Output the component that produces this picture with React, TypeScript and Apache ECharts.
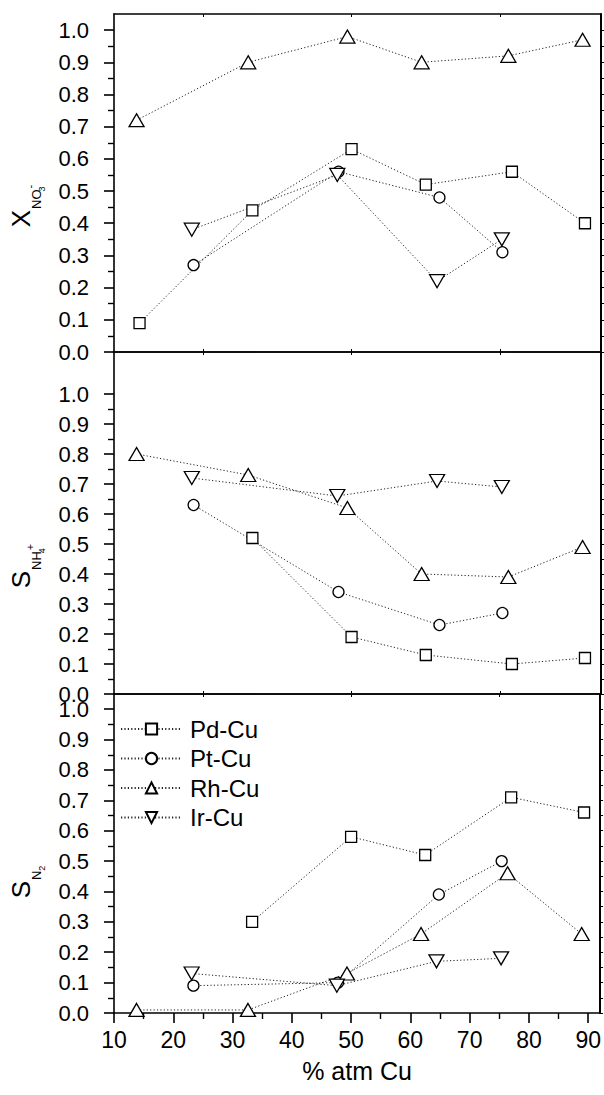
import React, { useEffect, useRef } from "react";
import * as echarts from "echarts";

const FONT = "'Liberation Sans', Arial, Helvetica, sans-serif";

// Alloy series and the Cu content (% atm) of each catalyst
const alloyNames = ["Pd-Cu", "Pt-Cu", "Rh-Cu", "Ir-Cu"];
const pdCuX = [14.3, 33.3, 50.0, 62.5, 77.0, 89.3];
const ptCuX = [23.4, 47.8, 64.8, 75.4];
const rhCuX = [13.8, 32.6, 49.3, 61.8, 76.4, 88.9];
const irCuX = [23.1, 47.6, 64.4, 75.3];

// Nitrate conversion
const convPd = [0.09, 0.44, 0.63, 0.52, 0.56, 0.4];
const convPt = [0.27, 0.56, 0.48, 0.31];
const convRh = [0.72, 0.9, 0.98, 0.9, 0.92, 0.97];
const convIr = [0.38, 0.55, 0.22, 0.35];

// Ammonium selectivity
const nh4Pd = [null, 0.52, 0.19, 0.13, 0.1, 0.12];
const nh4Pt = [0.63, 0.34, 0.23, 0.27];
const nh4Rh = [0.8, 0.73, 0.62, 0.4, 0.39, 0.49];
const nh4Ir = [0.72, 0.66, 0.71, 0.69];

// Nitrogen selectivity
const n2Pd = [null, 0.3, 0.58, 0.52, 0.71, 0.66];
const n2Pt = [0.09, 0.1, 0.39, 0.5];
const n2Rh = [0.01, 0.01, 0.13, 0.26, 0.46, 0.26];
const n2Ir = [0.13, 0.09, 0.17, 0.18];

// Axis ticks
const xMajorTicks = [10, 20, 30, 40, 50, 60, 70, 80, 90];
const xMinorTicks = [15, 25, 35, 45, 55, 65, 75, 85];
const xFrameTicks = [25, 50, 75];
const yMajorTicks = [0, 0.1, 0.2, 0.3, 0.4, 0.5, 0.6, 0.7, 0.8, 0.9, 1.0];
const yMinorTicks = [0.05, 0.15, 0.25, 0.35, 0.45, 0.55, 0.65, 0.75, 0.85, 0.95];
const xTitle = "% atm Cu";

const panelYMax = [1.05, 1.14, 1.05];
const grids = [
  { left: 114, width: 487, top: 14, height: 338 },
  { left: 114, width: 487, top: 352, height: 342 },
  { left: 114, width: 487, top: 694, height: 319 },
];

const symbols: Record<string, { symbol: string; size: number | number[]; rotate: number }> = {
  "Pd-Cu": { symbol: "rect", size: 11, rotate: 0 },
  "Pt-Cu": { symbol: "circle", size: 11, rotate: 0 },
  "Rh-Cu": { symbol: "triangle", size: [15, 13], rotate: 0 },
  "Ir-Cu": { symbol: "triangle", size: [15, 13], rotate: 180 },
};

const xs: Record<string, number[]> = {
  "Pd-Cu": pdCuX,
  "Pt-Cu": ptCuX,
  "Rh-Cu": rhCuX,
  "Ir-Cu": irCuX,
};

const panelValues: Record<string, (number | null)[]>[] = [
  { "Pd-Cu": convPd, "Pt-Cu": convPt, "Rh-Cu": convRh, "Ir-Cu": convIr },
  { "Pd-Cu": nh4Pd, "Pt-Cu": nh4Pt, "Rh-Cu": nh4Rh, "Ir-Cu": nh4Ir },
  { "Pd-Cu": n2Pd, "Pt-Cu": n2Pt, "Rh-Cu": n2Rh, "Ir-Cu": n2Ir },
];

const LINE = { color: "#000", width: 1.6 };

function buildOption() {
  const xAxis: any[] = [];
  const yAxis: any[] = [];
  const series: any[] = [];
  const mainX: number[] = [];
  const mainY: number[] = [];

  grids.forEach((_, gi) => {
    const last = gi === grids.length - 1;
    // bottom axis
    mainX.push(xAxis.length);
    xAxis.push({
      type: "value",
      gridIndex: gi,
      position: "bottom",
      min: 10,
      max: 92,
      axisLine: { show: true, onZero: false, lineStyle: LINE },
      axisTick: last
        ? { show: true, inside: false, length: 10, customValues: xMajorTicks, lineStyle: { width: 1.6, color: "#000" } }
        : { show: true, inside: true, length: 3, customValues: xFrameTicks, lineStyle: { width: 1, color: "#000" } },
      axisLabel: last
        ? {
            show: true,
            customValues: xMajorTicks,
            margin: 15,
            fontSize: 23,
            fontFamily: FONT,
            color: "#000",
            formatter: (v: number) => String(Math.round(v)),
          }
        : { show: false },
      splitLine: { show: false },
      name: last ? xTitle : "",
      nameLocation: "middle",
      nameGap: 45,
      nameTextStyle: { fontSize: 25, fontFamily: FONT, color: "#000" },
    });
    if (last) {
      xAxis.push({
        type: "value",
        gridIndex: gi,
        position: "bottom",
        min: 10,
        max: 92,
        axisLine: { show: false, onZero: false },
        axisTick: { show: true, inside: false, length: 6, customValues: xMinorTicks, lineStyle: { width: 1.4, color: "#000" } },
        axisLabel: { show: false },
        splitLine: { show: false },
      });
    }
    // top frame
    xAxis.push({
      type: "value",
      gridIndex: gi,
      position: "top",
      min: 10,
      max: 92,
      axisLine: { show: true, onZero: false, lineStyle: LINE },
      axisTick: { show: true, inside: true, length: 3, customValues: xFrameTicks, lineStyle: { width: 1, color: "#000" } },
      axisLabel: { show: false },
      splitLine: { show: false },
    });

    // left axis with labels
    mainY.push(yAxis.length);
    yAxis.push({
      type: "value",
      gridIndex: gi,
      position: "left",
      min: 0,
      max: panelYMax[gi],
      axisLine: { show: true, onZero: false, lineStyle: LINE },
      axisTick: { show: true, inside: false, length: 10, customValues: yMajorTicks, lineStyle: { width: 1.6, color: "#000" } },
      axisLabel: {
        show: true,
        customValues: yMajorTicks,
        margin: 25,
        fontSize: 22,
        fontFamily: FONT,
        color: "#000",
        formatter: (v: number) => v.toFixed(1),
      },
      splitLine: { show: false },
    });
    // left minor ticks
    yAxis.push({
      type: "value",
      gridIndex: gi,
      position: "left",
      min: 0,
      max: panelYMax[gi],
      axisLine: { show: false, onZero: false },
      axisTick: { show: true, inside: false, length: 6, customValues: yMinorTicks, lineStyle: { width: 1.4, color: "#000" } },
      axisLabel: { show: false },
      splitLine: { show: false },
    });
    // right frame
    yAxis.push({
      type: "value",
      gridIndex: gi,
      position: "right",
      min: 0,
      max: panelYMax[gi],
      axisLine: { show: true, onZero: false, lineStyle: { color: "#000", width: 2 } },
      axisTick: {
        show: true,
        inside: false,
        length: 3,
        customValues: [...yMajorTicks, ...yMinorTicks],
        lineStyle: { width: 1, color: "#000" },
      },
      axisLabel: { show: false },
      splitLine: { show: false },
    });

    alloyNames.forEach((name) => {
      const vals = panelValues[gi][name];
      const sym = symbols[name];
      series.push({
        type: "line",
        name,
        xAxisIndex: mainX[gi],
        yAxisIndex: mainY[gi],
        data: xs[name].map((x, i) => [x, vals[i]]),
        symbol: sym.symbol,
        symbolSize: sym.size,
        symbolRotate: sym.rotate,
        showAllSymbol: true,
        lineStyle: { color: "#222", width: 1, type: [1.2, 2.2] },
        itemStyle: { color: "#fff", borderColor: "#000", borderWidth: 1.3 },
        emphasis: { disabled: true },
        z: 3,
      });
    });
  });

  const title = (main: string, sub: string, subsub: string, sup: string, cy: number) => ({
    type: "text",
    x: 8,
    y: cy,
    rotation: Math.PI / 2,
    style: {
      text: `{m|${main}}{s|${sub}}{ss|${subsub}}` + (sup ? `{p|${sup}}` : ""),
      fill: "#000",
      align: "center",
      verticalAlign: "top",
      fontFamily: FONT,
      rich: {
        m: { fontSize: 26, fontFamily: FONT, verticalAlign: "top", padding: [0, 0, 0, 0] },
        s: { fontSize: 13, fontFamily: FONT, verticalAlign: "top", padding: [22, 0, 0, 1] },
        ss: sup
          ? { fontSize: 9, fontFamily: FONT, verticalAlign: "top", padding: [29, 0, 0, 0], width: 1 }
          : { fontSize: 9, fontFamily: FONT, verticalAlign: "top", padding: [29, 0, 0, 0] },
        p: { fontSize: 11, fontFamily: FONT, verticalAlign: "top", padding: [16, 0, 0, 0] },
      },
    },
  });

  return {
    animation: false,
    backgroundColor: "#fff",
    grid: grids,
    xAxis,
    yAxis,
    series,
    legend: {
      data: alloyNames,
      orient: "vertical",
      left: 115,
      top: 712,
      itemWidth: 61,
      itemHeight: 14,
      itemGap: 5.5,
      selectedMode: false,
      textStyle: { fontSize: 24, fontFamily: FONT, color: "#000", padding: [0, 0, 0, 3] },
    },
    graphic: [
      title("X", "NO", "3", "-", 206),
      title("S", "NH", "4", "+", 566),
      title("S", "N", "2", "", 882),
    ],
  };
}

export default function App() {
  const ref = useRef<HTMLDivElement>(null);
  useEffect(() => {
    document.body.style.margin = "0";
    if (!ref.current) return;
    const chart = echarts.init(ref.current, null, { renderer: "svg" });
    chart.setOption(buildOption() as any);
    return () => chart.dispose();
  }, []);
  return <div ref={ref} style={{ width: 604, height: 1095 }} />;
}
